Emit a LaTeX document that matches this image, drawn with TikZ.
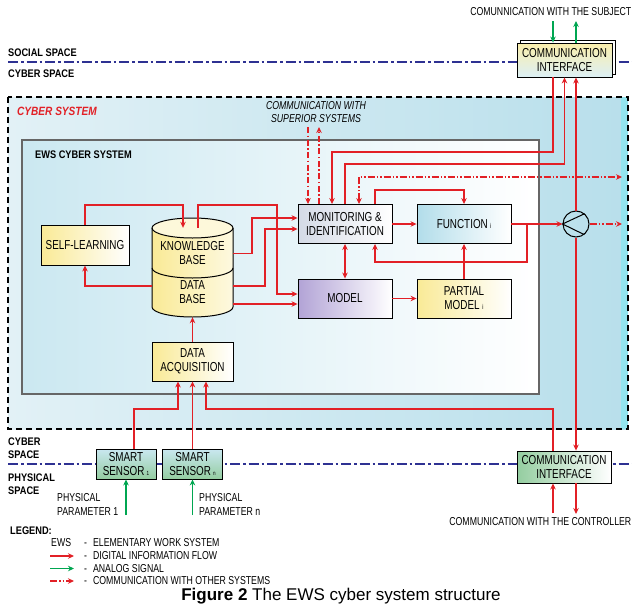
\documentclass[tikz,border=0pt]{standalone}
\usepackage{fontspec}
\setmainfont{Liberation Sans}
\newfontfamily\nsf[FakeStretch=0.76]{Liberation Sans}
\newfontfamily\bsf[FakeStretch=0.84]{Liberation Sans}
\usetikzlibrary{arrows.meta}
\definecolor{flowred}{RGB}{226,32,38}
\definecolor{siggreen}{RGB}{0,166,81}
\definecolor{spaceblue}{RGB}{46,49,146}
\definecolor{cybA}{RGB}{226,241,246}
\definecolor{cybB}{RGB}{184,223,235}
\definecolor{ewsA}{RGB}{203,232,241}
\definecolor{yelA}{RGB}{249,234,150}
\definecolor{monA}{RGB}{212,218,230}
\definecolor{funA}{RGB}{178,221,234}
\definecolor{modA}{RGB}{178,163,214}
\definecolor{grnA}{RGB}{148,205,160}
\tikzset{
  >={Stealth[length=6pt,width=5.5pt]},
  box/.style={draw, line width=0.9pt, align=center, inner sep=1pt,
    font=\nsf\fontsize{13}{14}\selectfont},
  flow/.style={draw=flowred, line width=1.7pt, ->},
  analog/.style={draw=siggreen, line width=1.7pt, ->},
  othercom/.style={flow, dash pattern=on 7pt off 2pt on 1.5pt off 2pt on 1.5pt off 2pt},
  supcom/.style={flow, dash pattern=on 6pt off 2.5pt on 1.5pt off 2.5pt},
  spaceline/.style={draw=spaceblue, line width=2.5pt, dash pattern=on 10pt off 3pt on 2.5pt off 3pt},
  lbl/.style={inner sep=0pt, align=left, font=\nsf\fontsize{11.5}{14}\selectfont},
  spacelbl/.style={inner sep=0pt, align=left, font=\bsf\bfseries\fontsize{11}{13}\selectfont},
}
\begin{document}
\begin{tikzpicture}[x=1pt,y=-1pt]
\useasboundingbox[fill=white] (0,0) rectangle (632,608);

% social / cyber / physical space borders
\draw[spaceline] (8,62) -- (632,62);
\draw[spaceline] (8,464) -- (632,464);
\node[spacelbl, anchor=west] (social) at (8,53) {SOCIAL SPACE};
\node[spacelbl, anchor=west] (cyberup) at (8,73.5) {CYBER SPACE};
\node[spacelbl, anchor=west] (cyberdn) at (8,448.5) {CYBER\\SPACE};
\node[spacelbl, anchor=west] (physical) at (8,484.5) {PHYSICAL\\SPACE};

% cyber system and EWS cyber system
\path[left color=cybA, right color=cybB] (8,97) rectangle (628,429);
\fill[cybB!80!cyan] (621,97) rectangle (628,429);
\draw[line width=1.3pt, dash pattern=on 6pt off 4pt] (8,97) rectangle (628,429);
\node[anchor=west, inner sep=0pt, text=flowred, font=\bsf\bfseries\itshape\fontsize{12}{14}\selectfont] (cybsys) at (17,111) {CYBER SYSTEM};
\draw[gray!80!black, line width=1.2pt, left color=ewsA, right color=white] (22,140) rectangle (539,394);
\node[spacelbl, anchor=west] (ewssys) at (35,155) {EWS CYBER SYSTEM};
\node[lbl, align=center, font=\nsf\itshape\fontsize{11.5}{13}\selectfont] (sup) at (316,112) {COMMUNICATION WITH\\SUPERIOR SYSTEMS};

% knowledge and data base
\path[left color=yelA, right color=yelA!30] (152,228) -- (152,307)
  arc[start angle=180, end angle=360, x radius=40.5pt, y radius=10pt] -- (233,228)
  arc[start angle=0, end angle=180, x radius=40.5pt, y radius=10pt] -- cycle;
\draw[line width=1pt, fill=yelA!35] (192.5,228) ellipse [x radius=40.5pt, y radius=10pt];
\draw[line width=1pt] (152,228) -- (152,307)
  arc[start angle=180, end angle=360, x radius=40.5pt, y radius=10pt] -- (233,228);
\draw[line width=1pt] (152,268) arc[start angle=180, end angle=360, x radius=40.5pt, y radius=10pt];
\node[align=center, inner sep=0pt, minimum width=81, minimum height=51, font=\nsf\fontsize{13}{14}\selectfont] (kb) at (192.5,253.5) {KNOWLEDGE\\BASE};
\node[align=center, inner sep=0pt, minimum width=81, minimum height=49, font=\nsf\fontsize{13}{14}\selectfont] (dat) at (192.5,292.5) {DATA\\BASE};

% blocks
\node[box, left color=yelA, right color=white, minimum width=88, minimum height=40] (self) at (85,245) {SELF-LEARNING};
\node[box, left color=monA, right color=white, minimum width=94, minimum height=39] (mon) at (345,224) {MONITORING \&\\IDENTIFICATION};
\node[box, left color=funA, right color=white, minimum width=94, minimum height=39] (fun) at (464,224) {FUNCTION\,{\fontsize{7}{7}\selectfont i}};
\node[box, left color=modA, right color=white, minimum width=94, minimum height=39] (model) at (345,298.5) {MODEL};
\node[box, left color=yelA, right color=white, minimum width=94, minimum height=39] (part) at (464,298.5) {PARTIAL\\MODEL {\fontsize{7}{7}\selectfont i}};
\node[box, left color=yelA, right color=white, minimum width=81, minimum height=39] (da) at (192.5,361.5) {DATA\\ACQUISITION};
\node[draw, circle, line width=1pt, minimum size=26, inner sep=0pt] (circ) at (576,224) {};
\draw[line width=1pt] (circ.50) -- (circ.west) -- (circ.-52);

% sensors and interfaces
\node[box, top color=funA!70, bottom color=grnA, minimum width=60, minimum height=30] (sens1) at (126,464) {SMART\\SENSOR\,{\fontsize{6}{6}\selectfont 1}};
\node[box, top color=funA!70, bottom color=grnA, minimum width=60, minimum height=30] (sensn) at (192.5,464) {SMART\\SENSOR\,{\fontsize{6}{6}\selectfont n}};
\draw[line width=0.9pt, fill=white] (520,40) rectangle (615,74);
\node[box, top color=yelA!80, bottom color=funA!45, minimum width=95, minimum height=34] (topif) at (564.5,60) {COMMUNICATION\\INTERFACE};
\node[box, left color=grnA, right color=white, minimum width=94, minimum height=32] (botif) at (564,467) {COMMUNICATION\\INTERFACE};

% free ends
\coordinate (supin) at (308,127);
\coordinate (supout) at (319,127);
\coordinate (othr) at (622,177);
\coordinate (outr) at (622,224);
\coordinate (fb) at (527,224);
\coordinate (subjin) at (553,21);
\coordinate (subjout) at (576,21);
\coordinate (ctrlin) at (553,513);
\coordinate (ctrlout) at (576,514);
\coordinate (par1) at (126,515);
\coordinate (parn) at (192.5,515);

% digital information flow
\draw[flow] (self.north) |- (183,205) -- ([xshift=-9.5pt]kb.north);
\draw[flow] ([xshift=5.5pt]kb.north) |- (277,205) |- ([yshift=4.5pt]model.west);
\draw[flow] (kb.east) -| (252,218) -- ([yshift=6pt]mon.west);
\draw[flow] ([yshift=6.5pt]dat.east) -| (265,229) -- ([yshift=-5pt]mon.west);
\draw[flow] ([yshift=-11.5pt]dat.east) -- ([yshift=-5.5pt]model.west);
\draw[flow] ([yshift=6.5pt]dat.west) -| (self.south);
\draw[flow] (da.north) -- (dat.south);
\draw[flow] (mon.east) -- (fun.west);
\draw[flow, <->] (mon.south) -- (model.north);
\draw[flow] (model.east) -- (part.west);
\draw[flow] (part.north) -- (fun.south);
\draw[flow] ([xshift=30pt]mon.north) |- (464,190) -- (fun.north);
\draw[flow] (fun.east) -- (circ.west);
\draw[flow] (fb) |- (375,262) -- ([xshift=30pt]mon.south);
\draw[flow] ([xshift=-11.5pt]topif.south) |- (332,152) -- ([xshift=-13pt]mon.north);
\draw[flow] (mon.north) |- (564.5,164) -- (topif.south);
\draw[flow] (circ.north) -- (circ.north |- topif.south);
\draw[flow] (circ.south) -- (circ.south |- botif.north);
\draw[flow] ([xshift=8pt]sens1.north) |- (178,409) -- ([xshift=-14.5pt]da.south);
\draw[flow] (sensn.north) -- (da.south);
\draw[flow] ([xshift=-11pt]botif.north) |- (206,409) -- ([xshift=13.5pt]da.south);
\draw[flow] (ctrlin) -- (ctrlin |- botif.south);
\draw[flow] (ctrlout |- botif.south) -- (ctrlout);

% communication with other systems
\draw[supcom] (supin) -- (supin |- mon.north);
\draw[supcom] (supout |- mon.north) -- (supout);
\draw[othercom, <->] ([xshift=14pt]mon.north) |- (othr);
\draw[othercom] (circ.east) -- (outr);

% analog signals
\draw[analog] (subjin) -- (subjin |- topif.north);
\draw[analog] (subjout |- topif.north) -- (subjout);
\draw[analog] (par1) -- (par1 |- sens1.south);
\draw[analog] (parn) -- (parn |- sensn.south);

\node[lbl, anchor=east] (subj) at (631.5,12) {COMUNNICATION WITH THE SUBJECT};
\node[lbl, anchor=east] (ctrl) at (631.5,522) {COMMUNICATION WITH THE CONTROLLER};
\node[lbl, anchor=west] (par1lbl) at (57,504) {PHYSICAL\\PARAMETER 1};
\node[lbl, anchor=west] (parnlbl) at (199,504) {PHYSICAL\\PARAMETER n};

% legend
\node[spacelbl, anchor=west] (legend) at (10,531) {LEGEND:};
\node[lbl, anchor=west] (ewsabbr) at (51,543) {EWS};
\node[lbl, anchor=west] (leg1) at (84,543) {-\hspace{6pt}ELEMENTARY WORK SYSTEM};
\node[lbl, anchor=west] (leg2) at (84,556) {-\hspace{6pt}DIGITAL INFORMATION FLOW};
\node[lbl, anchor=west] (leg3) at (84,568.5) {-\hspace{6pt}ANALOG SIGNAL};
\node[lbl, anchor=west] (leg4) at (84,581) {-\hspace{6pt}COMMUNICATION WITH OTHER SYSTEMS};
\draw[flow] ([xshift=-34pt]leg2.west) -- ([xshift=-10pt]leg2.west);
\draw[analog] ([xshift=-34pt]leg3.west) -- ([xshift=-10pt]leg3.west);
\draw[othercom] ([xshift=-34pt]leg4.west) -- ([xshift=-10pt]leg4.west);

\node[inner sep=0pt, font=\fontsize{17}{20}\selectfont] (caption) at (341,596) {\textbf{Figure 2} The EWS cyber system structure};
\end{tikzpicture}
\end{document}
